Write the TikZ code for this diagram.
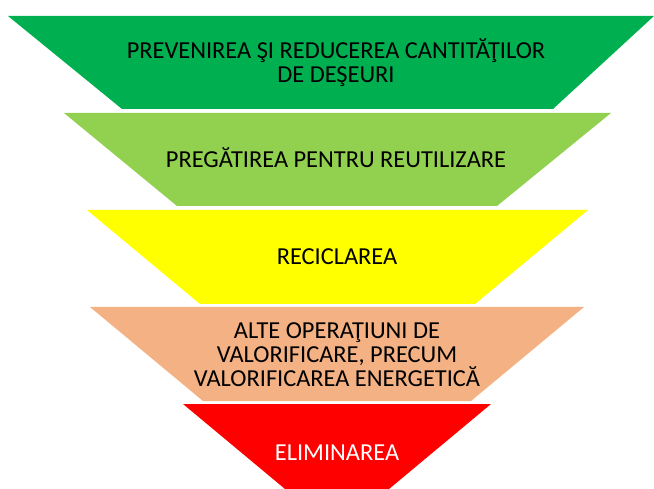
\documentclass[tikz,border=0pt]{standalone}
\usepackage{fontspec}
\setmainfont{Carlito}
\definecolor{cA}{HTML}{00B050}
\definecolor{cB}{HTML}{92D050}
\definecolor{cC}{HTML}{FFFF00}
\definecolor{cD}{HTML}{F4B183}
\definecolor{cE}{HTML}{FF0000}
\begin{document}
\begin{tikzpicture}[x=1pt,y=-1pt,
  lab/.style={font=\fontsize{24.4}{24.5}\selectfont, align=center, anchor=base, inner sep=0pt, text=black}]
\useasboundingbox (0,0) rectangle (654,489);
\clip (0,0) rectangle (654,489);
\fill[cA] (8,16) coordinate (a1) -- (654,16) coordinate (a2) -- (553,109) coordinate (a3) -- (122,109) coordinate (a4) -- cycle;
\fill[cB] (64,113) coordinate (b1) -- (611,113) coordinate (b2) -- (497,206) coordinate (b3) -- (177,206) coordinate (b4) -- cycle;
\fill[cC] (87,210) coordinate (c1) -- (588,210) coordinate (c2) -- (475,304) coordinate (c3) -- (200,304) coordinate (c4) -- cycle;
\fill[cD] (90,307) coordinate (d1) -- (584,307) coordinate (d2) -- (471,401) coordinate (d3) -- (203,401) coordinate (d4) -- cycle;
\fill[cE] (183,404) coordinate (e1) -- (491,404) coordinate (e2) -- (389,489) coordinate (e3) -- (285,489) coordinate (e4) -- cycle;
\node[lab] (ta) at (336,83) {PREVENIREA ŞI REDUCEREA CANTITĂŢILOR\\DE DEŞEURI};
\node[lab] (tb) at (336,168) {PREGĂTIREA PENTRU REUTILIZARE};
\node[lab] (tc) at (337,265) {RECICLAREA};
\node[lab] (td) at (337,387) {ALTE OPERAŢIUNI DE\\VALORIFICARE, PRECUM\\VALORIFICAREA ENERGETICĂ};
\node[lab, text=white] (te) at (337,460) {ELIMINAREA};
\end{tikzpicture}
\end{document}
